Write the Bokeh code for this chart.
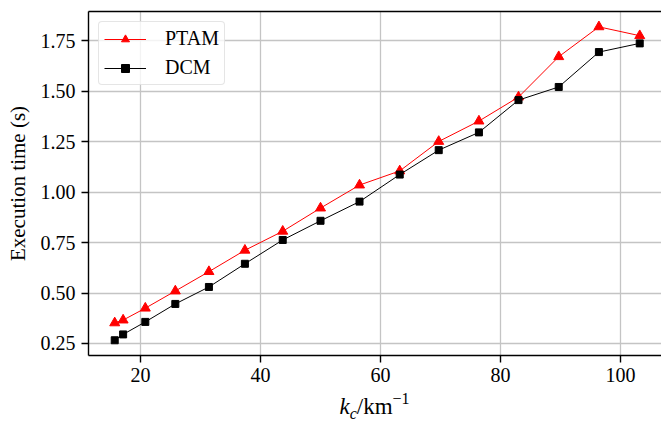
from bokeh.plotting import figure
from bokeh.models import (Range1d, LinearAxis, FixedTicker, Legend, LegendItem,
                          NumeralTickFormatter, Div)
from bokeh.layouts import column
from bokeh.embed import file_html
from bokeh.resources import INLINE

# Cut-off wavenumber k_c (km^-1) and execution times (s)
kc = [15.7, 17.1, 20.8, 25.8, 31.4, 37.4, 43.7, 50.0,
      56.5, 63.2, 69.7, 76.4, 83.0, 89.7, 96.4, 103.2]
ptam = [0.352, 0.366, 0.425, 0.510, 0.606, 0.712, 0.806, 0.921,
        1.035, 1.105, 1.251, 1.352, 1.471, 1.671, 1.819, 1.775]
dcm = [0.266, 0.295, 0.357, 0.446, 0.530, 0.645, 0.763, 0.858,
       0.953, 1.087, 1.208, 1.296, 1.456, 1.521, 1.694, 1.737]
x_ticks = [20, 40, 60, 80, 100]
y_ticks = [0.25, 0.50, 0.75, 1.00, 1.25, 1.50, 1.75]

FONT = "Liberation Serif"
W = 661
FIG_H, TITLE_H = 390, 32
LEFT, TOP, BOTTOM = 88, 11, 35

x0, x1 = 11.33, 106.83
y0, y1 = 0.1905, 1.895

p = figure(width=W, height=FIG_H, output_backend="svg", toolbar_location=None,
           x_range=Range1d(x0, x1), y_range=Range1d(y0, y1),
           min_border_left=LEFT, min_border_right=0,
           min_border_top=TOP, min_border_bottom=BOTTOM)
p.outline_line_color = None
p.background_fill_color = "white"
p.border_fill_color = "white"

xax = p.below[0]
yax = p.left[0]

for ax in (xax, yax):
    ax.axis_line_color = "black"
    ax.axis_line_width = 1.4
    ax.major_tick_line_color = "black"
    ax.major_tick_line_width = 1.4
    ax.major_tick_out = 7
    ax.major_tick_in = 0
    ax.minor_tick_out = 0
    ax.minor_tick_in = 0
    ax.major_label_text_font = FONT
    ax.major_label_text_font_size = "20px"
    ax.major_label_text_color = "black"

xax.ticker = FixedTicker(ticks=x_ticks)
yax.ticker = FixedTicker(ticks=y_ticks)
yax.formatter = NumeralTickFormatter(format="0.00")
xax.major_label_standoff = 5
yax.major_label_standoff = 6

yax.axis_label = "Execution time (s)"
yax.axis_label_text_font = FONT
yax.axis_label_text_font_size = "21px"
yax.axis_label_text_font_style = "normal"
yax.axis_label_text_color = "black"
yax.axis_label_standoff = 8

# top spine: an axis with no ticks or labels
top_axis = LinearAxis(ticker=FixedTicker(ticks=[]), major_tick_out=0,
                      major_tick_in=0, minor_tick_out=0, minor_tick_in=0,
                      major_label_text_font_size="0px", major_label_standoff=0,
                      axis_line_color="black", axis_line_width=1.4)
p.add_layout(top_axis, "above")

p.xgrid.ticker = FixedTicker(ticks=x_ticks)
p.ygrid.ticker = FixedTicker(ticks=y_ticks)
p.grid.grid_line_color = "#c4c4c4"
p.grid.grid_line_width = 1.3

r_ptam_line = p.line(kc, ptam, line_color="red", line_width=1)
r_ptam_pts = p.scatter(kc, ptam, marker="triangle", size=10,
                       fill_color="red", line_color="red")
r_dcm_line = p.line(kc, dcm, line_color="black", line_width=1)
r_dcm_pts = p.scatter(kc, dcm, marker="square", size=7,
                      fill_color="black", line_color="black")

legend = Legend(items=[
    LegendItem(label="PTAM", renderers=[r_ptam_line, r_ptam_pts]),
    LegendItem(label="DCM", renderers=[r_dcm_line, r_dcm_pts]),
], location="top_left")
legend.margin = 10
legend.padding = 5
legend.spacing = 6
legend.glyph_width = 42
legend.glyph_height = 20
legend.label_height = 20
legend.label_standoff = 19
legend.label_text_font = FONT
legend.label_text_font_size = "20px"
legend.label_text_color = "black"
legend.border_line_color = "#cccccc"
legend.border_line_width = 1.3
legend.background_fill_color = "white"
legend.background_fill_alpha = 0.8
if "border_radius" in Legend.properties():
    legend.border_radius = 4
p.add_layout(legend, "center")

# x-axis title k_c / km^-1, centred under the plot frame
frame_w = W - LEFT
xtitle = Div(
    text=(
        f'<div style="margin-left:{LEFT}px;width:{frame_w}px;text-align:center;'
        f'font-family:\'{FONT}\';font-size:23px;line-height:24px;color:black;'
        'padding-top:5px;white-space:nowrap">'
        '<i>k</i><sub style="font-size:16px;line-height:0;vertical-align:-5px">'
        '<i>c</i></sub>/km<sup style="font-size:16px;line-height:0;'
        'vertical-align:10px">\u22121</sup></div>'
    ),
    width=W, height=TITLE_H, margin=0,
)

layout = column(p, xtitle, spacing=0)
open("out.html", "w").write(file_html(layout, INLINE))
